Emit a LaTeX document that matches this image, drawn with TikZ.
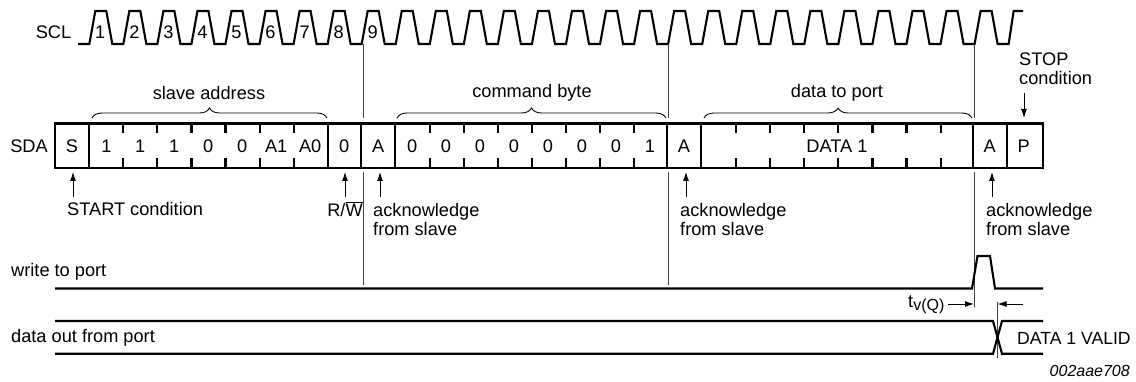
\documentclass[tikz,border=0pt]{standalone}
\usepackage{fontspec}
\setmainfont{Liberation Sans}
\usetikzlibrary{arrows.meta,decorations.pathreplacing}
\tikzset{
  wave/.style={line width=2.1pt,line join=miter,miter limit=3},
  guide/.style={line width=0.9pt,black!75},
  mark up/.style={line width=0.9pt,-{Latex[length=9pt,width=6pt]}},
  curly/.style={line width=0.9pt,decorate,decoration={brace,amplitude=10pt}},
  lbl/.style={inner sep=0pt,font=\fontsize{18.2}{19}\selectfont},
  lblleft/.style={lbl,anchor=west,align=left}
}
\def\cellx{89.3}
\def\cellw{34.05}
\begin{document}
\begin{tikzpicture}[x=1pt,y=-1pt]
  \useasboundingbox (0,0) rectangle (1136,382);
  % clock
  \draw[wave] (78,44) \foreach \k in {0,...,26} {
    -- ({\cellx+\k*\cellw},44) -- ({\cellx+\k*\cellw+6},11) -- ({\cellx+\k*\cellw+17},11) -- ({\cellx+\k*\cellw+23},44)}
    -- ({\cellx+27*\cellw},44) -- ({\cellx+27*\cellw+5},11) -- (1023,11);
  \node[lbl] (sclname) at (53.5,32) {SCL};
  \foreach \k in {1,...,9}
    \node[lbl] (clk\k) at ({\cellx+11+(\k-1)*\cellw},32) {\k};
  % data frame
  \draw[wave] (55,123.5) rectangle (1042.7,168);
  \draw[wave] (\cellx,123.5) -- (\cellx,168);
  \foreach \k in {8,9,17,18,26,27}
    \draw[wave] ({\cellx+\k*\cellw-\k/13},123.5) -- ({\cellx+\k*\cellw-\k/13},168);
  \draw[wave] ({\cellx+7*\cellw},123.5) -- ({\cellx+7*\cellw},168);
  \foreach \k in {1,...,6,10,11,...,16,19,20,...,25} {
    \draw[wave] ({\cellx+\k*\cellw},123.5) -- ({\cellx+\k*\cellw},133);
    \draw[wave] ({\cellx+\k*\cellw},158.5) -- ({\cellx+\k*\cellw},168);
  }
  \node[lbl] (sdaname) at (29,146) {SDA};
  \node[lbl] (startbit) at (72,146) {S};
  \foreach \k/\bit in {0/1,1/1,2/1,3/0,4/0,5/A1,6/A0,7/0,8/A,9/0,10/0,11/0,12/0,13/0,14/0,15/0,16/1,17/A,26/A,27/P}
    \node[lbl] (bit\k) at ({\cellx+(\k+.5)*\cellw-\k/13},146) {\bit};
  \node[lbl] (dataone) at (837,146) {DATA 1};
  % braces and what they span
  \draw[curly] (92,118) -- (327,118);
  \draw[curly] (397,118) -- (666,118);
  \draw[curly] (704,118) -- (972,118);
  \node[lbl] (addrtext) at (209,93) {slave address};
  \node[lbl] (cmdtext) at (532,93) {command byte};
  \node[lbl] (porttext) at (837,93) {data to port};
  % clock guides
  \draw[guide] (363,44) -- (363,118) (363,172) -- (363,285);
  \draw[guide] (668.5,44) -- (668.5,118) (668.5,172) -- (668.5,285);
  \draw[guide] (974.5,44) -- (974.5,118) (974.5,172) -- (974.5,307);
  \draw[guide] (997,302) -- (997,358);
  % markers under the frame
  \foreach \mx in {73,345,380,686,992}
    \draw[mark up] (\mx,197) -- (\mx,172);
  \draw[mark up] (1024,93) -- (1024,118);
  \node[lblleft] (starttext) at (67,209) {START condition};
  \node[lbl] (rwtext) at (345,209) {R/$\overline{\mbox{W}}$};
  \node[lblleft] (ackone) at (373,219.5) {acknowledge\\from slave};
  \node[lblleft] (acktwo) at (680,219.5) {acknowledge\\from slave};
  \node[lblleft] (ackthree) at (986,219.5) {acknowledge\\from slave};
  \node[lblleft] (stoptext) at (1019,68.5) {STOP\\condition};
  % port signals
  \node[lblleft] (writetext) at (11,272) {write to port};
  \draw[wave] (55,288.5) -- (972,288.5) -- (977.5,256) -- (990,256) -- (995,288.5) -- (1043,288.5);
  \node[lblleft] (dataouttext) at (11,338) {data out from port};
  \draw[wave] (55,321) -- (993,321) -- (1002,353.7) -- (1043,353.7);
  \draw[wave] (55,353.7) -- (993,353.7) -- (1002,321) -- (1043,321);
  \node[lblleft,font=\fontsize{17.6}{19}\selectfont] (validtext) at (1017,338) {DATA 1 VALID};
  % valid time
  \node[lblleft] (tvtext) at (908,305) {t\raisebox{-3.5pt}{\fontsize{16}{17}\selectfont v(Q)}};
  \draw[mark up] (948,304) -- (974,304);
  \draw[mark up] (1023,304) -- (997.5,304);
  \node[lbl,anchor=east,font=\fontsize{16}{17}\selectfont\itshape] (partno) at (1130,371) {002aae708};
\end{tikzpicture}
\end{document}
